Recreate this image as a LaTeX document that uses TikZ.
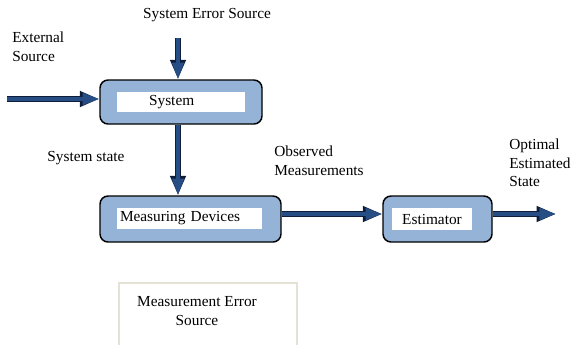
\documentclass[tikz,border=0pt]{standalone}
\usepackage{fontspec}
\setmainfont{Liberation Serif}
\usetikzlibrary{arrows.meta, positioning}
\definecolor{blockblue}{RGB}{149,179,215}
\definecolor{arrowblue}{RGB}{38,78,132}
\definecolor{arrowline}{RGB}{14,30,58}
\definecolor{framegray}{RGB}{228,226,212}
\begin{document}
\begin{tikzpicture}[
    x=0.75pt, y=-0.75pt,
    font=\fontsize{11.5}{14}\selectfont,
    block/.style={
        rectangle, rounded corners=6pt,
        draw=black, line width=1.1pt, fill=blockblue},
    inbox/.style={
        rectangle, fill=white, inner sep=0pt, align=center},
    lab/.style={align=left, inner sep=0pt},
    flow/.style={
        line width=2.6pt, draw=arrowblue,
        -{Triangle[length=12.5pt, width=8.5pt]},
        preaction={draw=arrowline, line width=4.4pt,
                   -{Triangle[length=14.5pt, width=11pt]}}}]
  \useasboundingbox (0,0) rectangle (572,344);
  % Bloques
  \node[block, minimum width=121.5pt, minimum height=33pt] (sys) at (181,102) {};
  \node[inbox, minimum width=96pt, minimum height=15pt] (systxt) at (181,102) {System\hspace{14pt}};
  \node[block, minimum width=135.75pt, minimum height=34.5pt] (meas) at (190.5,219) {};
  \node[inbox, minimum height=15.75pt, text width=104.25pt, inner xsep=2.25pt, align=left]
    (meastxt) at (189.5,218.5) {Measuring Devices};
  \node[block, minimum width=81.75pt, minimum height=34.5pt] (est) at (437.5,219) {};
  \node[inbox, minimum width=60pt, minimum height=16.5pt] (esttxt) at (432,219) {Estimator};
  % Etiquetas
  \node[lab] (errsrc) at (207,15) {System Error Source};
  \node[lab, anchor=west] (extsrc) at (12,46.5) {External\\Source};
  \node[lab] (sysstate) at (86,158) {System state};
  \node[lab, anchor=west] (obs) at (274,161) {Observed\\Measurements};
  \node[lab, anchor=west] (opt) at (509,163) {Optimal\\Estimated\\State};
  \node[lab, align=center] (merr) at (197,311) {Measurement Error\\Source};
  \draw[framegray, line width=0.8pt] (119,345) -- (119,283) -- (297,283) -- (297,345);
  % Flechas
  \coordinate (errin) at (178,38);
  \coordinate (extin) at (7,99);
  \coordinate (outpt) at (556,214);
  \draw[flow] (errin) -- (errin |- sys.north);
  \draw[flow] (extin) -- (extin -| sys.west);
  \draw[flow] (errin |- sys.south) -- (errin |- meas.north);
  \draw[flow] ([yshift=3.75pt]meas.east) -- ([yshift=3.75pt]est.west);
  \draw[flow] ([yshift=3.75pt]est.east) -- (outpt);
\end{tikzpicture}
\end{document}
